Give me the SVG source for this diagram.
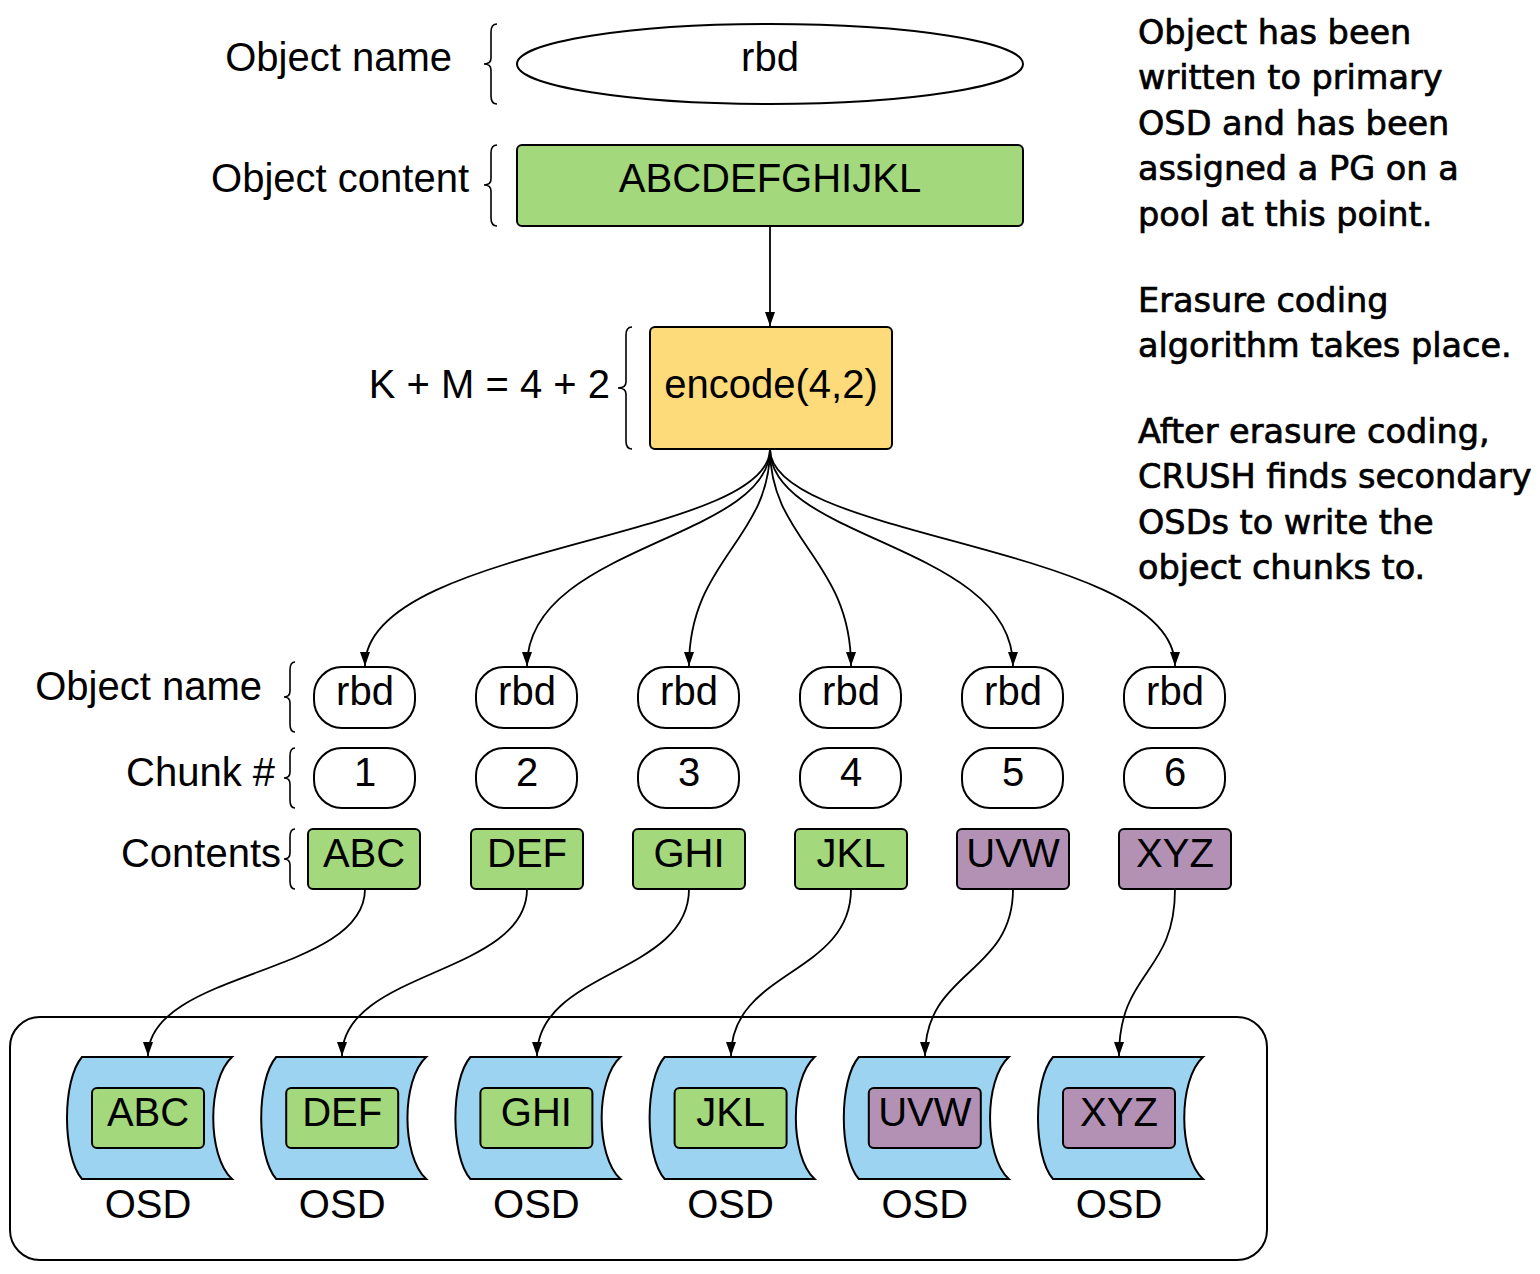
<svg xmlns="http://www.w3.org/2000/svg" width="1540" height="1274" viewBox="0 0 1540 1274">
<defs>
<style>
.t{font-family:"Liberation Sans",Arial,sans-serif;font-size:40px;fill:#000}
.m{text-anchor:middle}
.e{text-anchor:end}
.note{font-family:"DejaVu Sans",Verdana,sans-serif;font-size:33.5px;fill:#000;stroke:#000;stroke-width:0.7}
.box{stroke:#000;stroke-width:2}
.white{fill:#fff}
.green{fill:#a3d87c}
.purple{fill:#b391b5}
.yellow{fill:#fedb7a}
.blue{fill:#9cd3f0}
.brace{fill:none;stroke:#000;stroke-width:1.6}
.edge{fill:none;stroke:#000;stroke-width:1.8}
</style>
<marker id="arr" markerWidth="16" markerHeight="12" refX="14" refY="6" orient="auto" markerUnits="userSpaceOnUse">
<path d="M0,1 L14,6 L0,11 Z" fill="#000"/>
</marker>
<path id="osd" d="M15,0 L165,0 C140,23 140,99 165,122 L15,122 C-5,99 -5,23 15,0 Z"/>
</defs>

<g id="labels">
<text class="t e" x="452" y="71">Object name</text>
<text class="t e" x="469" y="192">Object content</text>
<text class="t e" x="610" y="398">K + M = 4 + 2</text>
<text class="t e" x="262" y="700">Object name</text>
<text class="t e" x="275" y="786">Chunk #</text>
<text class="t e" x="281" y="867">Contents</text>
<path class="brace" d="M497,24 Q491,24 491,32 L491,58 Q491,64 484,64 Q491,64 491,70 L491,96 Q491,104 497,104"/>
<path class="brace" d="M497,145 Q491,145 491,153 L491,179 Q491,185 484,185 Q491,185 491,191 L491,218 Q491,226 497,226"/>
<path class="brace" d="M632,327 Q626,327 626,335 L626,382 Q626,388 618,388 Q626,388 626,394 L626,441 Q626,449 632,449"/>
<path class="brace" d="M295,662 Q290,662 290,670 L290,691 Q290,697 284,697 Q290,697 290,703 L290,724 Q290,732 295,732"/>
<path class="brace" d="M295,748 Q290,748 290,756 L290,772 Q290,778 284,778 Q290,778 290,784 L290,800 Q290,808 295,808"/>
<path class="brace" d="M295,829 Q290,829 290,837 L290,853 Q290,859 284,859 Q290,859 290,865 L290,881 Q290,889 295,889"/>
</g>

<g id="notes">
<text class="note" x="1138" y="44">Object has been</text>
<text class="note" x="1138" y="89">written to primary</text>
<text class="note" x="1138" y="135">OSD and has been</text>
<text class="note" x="1138" y="180">assigned a PG on a</text>
<text class="note" x="1138" y="226">pool at this point.</text>
<text class="note" x="1138" y="312">Erasure coding</text>
<text class="note" x="1138" y="357">algorithm takes place.</text>
<text class="note" x="1138" y="443">After erasure coding,</text>
<text class="note" x="1138" y="488">CRUSH finds secondary</text>
<text class="note" x="1138" y="534">OSDs to write the</text>
<text class="note" x="1138" y="579">object chunks to.</text>
</g>

<g id="obj-name">
<ellipse class="box white" cx="770" cy="64" rx="253" ry="40"/>
<text class="t m" x="770" y="71">rbd</text>
</g>
<g id="obj-content">
<rect class="box green" x="517" y="145" width="506" height="81" rx="5"/>
<text class="t m" x="770" y="192">ABCDEFGHIJKL</text>
</g>
<g id="encode">
<rect class="box yellow" x="650" y="327" width="242" height="122" rx="5"/>
<text class="t m" x="771" y="398">encode(4,2)</text>
</g>

<g id="chunk1">
<rect class="box white" x="314" y="667" width="101" height="61" rx="28"/>
<text class="t m" x="365" y="705">rbd</text>
<rect class="box white" x="314" y="748" width="101" height="60" rx="28"/>
<text class="t m" x="365" y="786">1</text>
<rect class="box green" x="308" y="829" width="112" height="60" rx="5"/>
<text class="t m" x="364" y="867">ABC</text>
</g>
<g id="chunk2">
<rect class="box white" x="476" y="667" width="101" height="61" rx="28"/>
<text class="t m" x="527" y="705">rbd</text>
<rect class="box white" x="476" y="748" width="101" height="60" rx="28"/>
<text class="t m" x="527" y="786">2</text>
<rect class="box green" x="471" y="829" width="112" height="60" rx="5"/>
<text class="t m" x="527" y="867">DEF</text>
</g>
<g id="chunk3">
<rect class="box white" x="638" y="667" width="101" height="61" rx="28"/>
<text class="t m" x="689" y="705">rbd</text>
<rect class="box white" x="638" y="748" width="101" height="60" rx="28"/>
<text class="t m" x="689" y="786">3</text>
<rect class="box green" x="633" y="829" width="112" height="60" rx="5"/>
<text class="t m" x="689" y="867">GHI</text>
</g>
<g id="chunk4">
<rect class="box white" x="800" y="667" width="101" height="61" rx="28"/>
<text class="t m" x="851" y="705">rbd</text>
<rect class="box white" x="800" y="748" width="101" height="60" rx="28"/>
<text class="t m" x="851" y="786">4</text>
<rect class="box green" x="795" y="829" width="112" height="60" rx="5"/>
<text class="t m" x="851" y="867">JKL</text>
</g>
<g id="chunk5">
<rect class="box white" x="962" y="667" width="101" height="61" rx="28"/>
<text class="t m" x="1013" y="705">rbd</text>
<rect class="box white" x="962" y="748" width="101" height="60" rx="28"/>
<text class="t m" x="1013" y="786">5</text>
<rect class="box purple" x="957" y="829" width="112" height="60" rx="5"/>
<text class="t m" x="1013" y="867">UVW</text>
</g>
<g id="chunk6">
<rect class="box white" x="1124" y="667" width="101" height="61" rx="28"/>
<text class="t m" x="1175" y="705">rbd</text>
<rect class="box white" x="1124" y="748" width="101" height="60" rx="28"/>
<text class="t m" x="1175" y="786">6</text>
<rect class="box purple" x="1119" y="829" width="112" height="60" rx="5"/>
<text class="t m" x="1175" y="867">XYZ</text>
</g>

<g id="cluster">
<rect x="10" y="1017" width="1257" height="243" rx="30" fill="none" stroke="#000" stroke-width="2"/>
</g>

<g id="osd1" transform="translate(67,1057)">
<use href="#osd" class="box blue"/>
<rect class="box green" x="25" y="31" width="112" height="60" rx="5"/>
<text class="t m" x="81" y="69">ABC</text>
<text class="t m" x="81" y="161">OSD</text>
</g>
<g id="osd2" transform="translate(261.2,1057)">
<use href="#osd" class="box blue"/>
<rect class="box green" x="25" y="31" width="112" height="60" rx="5"/>
<text class="t m" x="81" y="69">DEF</text>
<text class="t m" x="81" y="161">OSD</text>
</g>
<g id="osd3" transform="translate(455.4,1057)">
<use href="#osd" class="box blue"/>
<rect class="box green" x="25" y="31" width="112" height="60" rx="5"/>
<text class="t m" x="81" y="69">GHI</text>
<text class="t m" x="81" y="161">OSD</text>
</g>
<g id="osd4" transform="translate(649.6,1057)">
<use href="#osd" class="box blue"/>
<rect class="box green" x="25" y="31" width="112" height="60" rx="5"/>
<text class="t m" x="81" y="69">JKL</text>
<text class="t m" x="81" y="161">OSD</text>
</g>
<g id="osd5" transform="translate(843.8,1057)">
<use href="#osd" class="box blue"/>
<rect class="box purple" x="25" y="31" width="112" height="60" rx="5"/>
<text class="t m" x="81" y="69">UVW</text>
<text class="t m" x="81" y="161">OSD</text>
</g>
<g id="osd6" transform="translate(1038,1057)">
<use href="#osd" class="box blue"/>
<rect class="box purple" x="25" y="31" width="112" height="60" rx="5"/>
<text class="t m" x="81" y="69">XYZ</text>
<text class="t m" x="81" y="161">OSD</text>
</g>

<g id="connectors" marker-end="url(#arr)">
<path class="edge" d="M770,226 L770,326"/>
<path class="edge" d="M770,449 C770,540 365,545 365,666"/>
<path class="edge" d="M770,449 C770,540 527,545 527,666"/>
<path class="edge" d="M770,449 C770,540 689,560 689,666"/>
<path class="edge" d="M770,449 C770,540 851,560 851,666"/>
<path class="edge" d="M770,449 C770,540 1013,545 1013,666"/>
<path class="edge" d="M770,449 C770,540 1175,545 1175,666"/>
<path class="edge" d="M365,889 C365,975 148,970 148,1056"/>
<path class="edge" d="M527,889 C527,975 342,970 342,1056"/>
<path class="edge" d="M689,889 C689,975 537,970 537,1056"/>
<path class="edge" d="M851,889 C851,975 731,970 731,1056"/>
<path class="edge" d="M1013,889 C1013,975 925,970 925,1056"/>
<path class="edge" d="M1175,889 C1175,975 1119,970 1119,1056"/>
</g>
</svg>
